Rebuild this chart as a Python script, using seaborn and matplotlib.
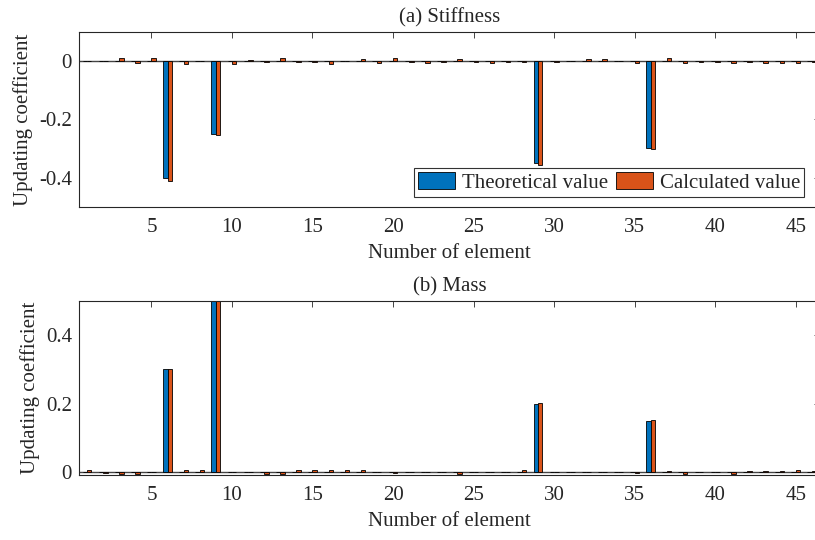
import numpy as np
import pandas as pd
import matplotlib
matplotlib.use("Agg")
import matplotlib.pyplot as plt
from matplotlib.patches import Patch
import seaborn as sns

elements = list(range(1, 47))

stiff_theory = [0.0] * 46
for e, v in [(6, -0.40), (9, -0.25), (29, -0.35), (36, -0.30)]:
    stiff_theory[e - 1] = v
stiff_calc = [0.000, 0.000, 0.010, -0.008, 0.010, -0.410, -0.010, 0.000, -0.255, -0.010,
              0.003, -0.002, 0.010, -0.002, -0.002, -0.010, 0.000, 0.008, -0.008, 0.010,
              -0.003, -0.006, -0.002, 0.008, -0.002, -0.008, -0.002, -0.002, -0.357, -0.002,
              0.000, 0.007, 0.007, 0.000, -0.008, -0.303, 0.012, -0.006, -0.002, -0.002,
              -0.006, -0.002, -0.007, -0.007, -0.007, -0.003]

mass_theory = [0.0] * 46
for e, v in [(6, 0.30), (9, 0.50), (29, 0.20), (36, 0.15)]:
    mass_theory[e - 1] = v
mass_calc = [0.008, -0.002, -0.004, -0.004, 0.000, 0.300, 0.008, 0.007, 0.505, 0.000,
             0.002, -0.005, -0.005, 0.006, 0.007, 0.006, 0.006, 0.006, 0.001, -0.002,
             0.002, 0.002, 0.002, -0.004, 0.000, 0.002, 0.002, 0.006, 0.202, 0.000,
             0.001, 0.001, 0.000, 0.001, -0.003, 0.153, 0.003, -0.004, 0.001, 0.000,
             -0.004, 0.005, 0.003, 0.005, 0.008, 0.005]

series_names = ["Theoretical value", "Calculated value"]
colors = ["#0072BD", "#D95319"]
xticks = [5, 10, 15, 20, 25, 30, 35, 40, 45]

sns.set_style("white")
plt.rcParams["font.family"] = ["Liberation Serif", "DejaVu Serif"]
plt.rcParams["axes.unicode_minus"] = False
plt.rcParams["font.size"] = 15

fig = plt.figure(figsize=(8.15, 5.4), dpi=100)
ax1 = fig.add_axes([0.0969, 0.6172, 0.909, 0.3235])
ax2 = fig.add_axes([0.0969, 0.1209, 0.909, 0.3222])


def make_df(theory, calc):
    return pd.DataFrame({
        "element": elements * 2,
        "value": list(theory) + list(calc),
        "series": [series_names[0]] * 46 + [series_names[1]] * 46,
    })


for ax, th, ca, title, ylim, yt, ytl in [
    (ax1, stiff_theory, stiff_calc, "(a) Stiffness", (-0.5, 0.1), [-0.4, -0.2, 0], ["-0.4", "-0.2", "0"]),
    (ax2, mass_theory, mass_calc, "(b) Mass", (-0.007, 0.5), [0, 0.2, 0.4], ["0", "0.2", "0.4"]),
]:
    df = make_df(th, ca)
    ax.axhline(0, color="#444444", lw=1.0, zorder=0.5)
    sns.barplot(data=df, x="element", y="value", hue="series", hue_order=series_names,
                palette=colors, native_scale=True, width=0.55, dodge=True,
                edgecolor="black", linewidth=0.6, errorbar=None, legend=False,
                saturation=1, ax=ax)
    ax.set_xlim(0.5, 46.5)
    ax.set_ylim(*ylim)
    ax.set_xticks(xticks)
    ax.set_xticklabels([str(t) for t in xticks])
    ax.set_yticks(yt)
    ax.set_yticklabels(ytl)
    ax.set_xlabel("Number of element", fontsize=15, labelpad=5)
    ax.set_ylabel("Updating coefficient", fontsize=15, labelpad=4)
    ax.set_title(title, fontsize=15, pad=7)
    ax.tick_params(direction="in", top=True, right=True, length=4, width=0.6,
                   color="#262626", labelsize=15)
    ax.tick_params(axis="x", pad=8)
    ax.tick_params(axis="y", pad=5)
    for s in ax.spines.values():
        s.set_visible(True)
        s.set_color("#262626")
        s.set_linewidth(0.8)

handles = [Patch(facecolor=c, edgecolor="black", linewidth=0.6) for c in colors]
leg = ax1.legend(handles, series_names, loc="lower right", bbox_to_anchor=(0.979, 0.055),
                 ncol=2, fontsize=15, frameon=True, fancybox=False, handlelength=1.8,
                 handleheight=0.85, handletextpad=0.3, columnspacing=0.4,
                 borderpad=0.2, borderaxespad=0)
leg.get_frame().set_edgecolor("black")
leg.get_frame().set_linewidth(0.8)

fig.savefig("out.png", dpi=100)
